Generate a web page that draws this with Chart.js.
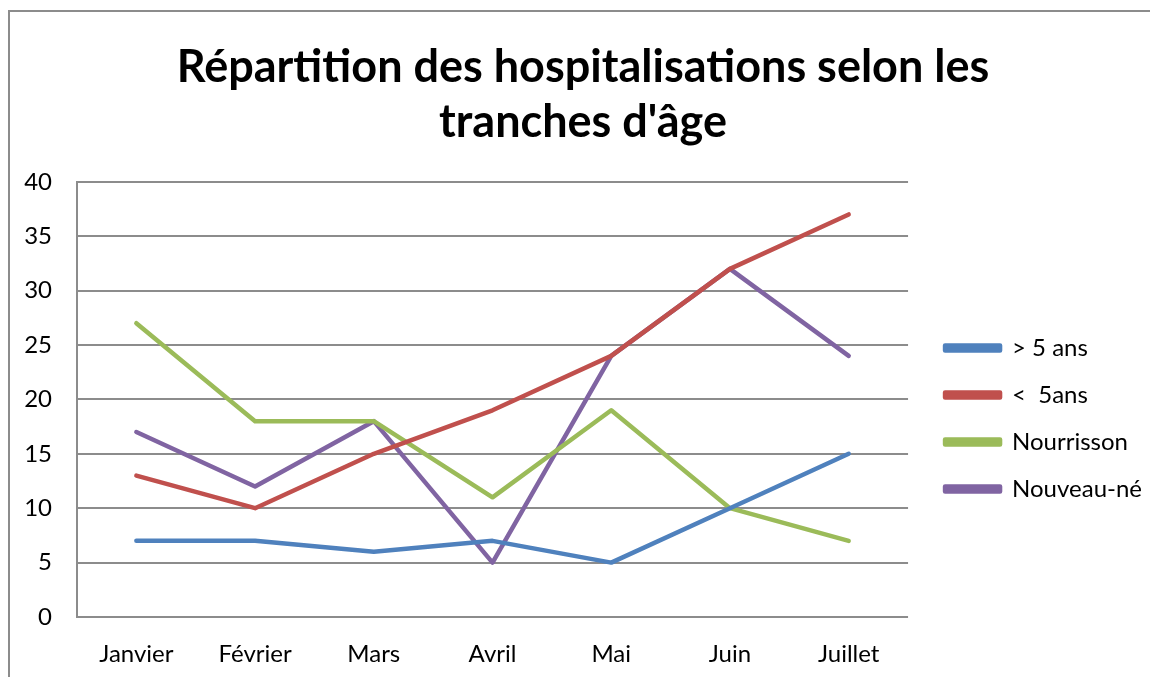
<!DOCTYPE html>
<html lang="fr">
<head>
    <meta charset="UTF-8">
    <title>Répartition des hospitalisations selon les tranches d'âge</title>
    <script src="https://cdn.jsdelivr.net/npm/chart.js"></script>
    <style>
        body { margin: 0; background: #fff; }
        #frame {
            position: absolute; left: 8px; top: 10px; width: 1142px; height: 667px;
            border-left: 2px solid #8c8c8c; border-top: 2px solid #8c8c8c;
        }
        #wrap { position: absolute; left: 0; top: 0; width: 1150px; height: 677px; }
    </style>
</head>
<body>
    <div id="frame"></div>
    <div id="wrap"><canvas id="hospChart" width="1150" height="677"></canvas></div>
    <script>
        const months = ['Janvier', 'Février', 'Mars', 'Avril', 'Mai', 'Juin', 'Juillet'];
        const plus5 = [7, 7, 6, 7, 5, 10, 15];
        const moins5 = [13, 10, 15, 19, 24, 32, 37];
        const nourrisson = [27, 18, 18, 11, 19, 10, 7];
        const nouveauNe = [17, 12, 18, 5, 24, 32, 24];
        const yTicks = [0, 5, 10, 15, 20, 25, 30, 35, 40];

        const font = 'Lato, Carlito, "Open Sans", sans-serif';

        function serie(label, data, color) {
            return {
                label: label, data: data, borderColor: color, backgroundColor: color,
                borderWidth: 4.5, pointRadius: 0, tension: 0, borderCapStyle: 'round', borderJoinStyle: 'round'
            };
        }

        // nudge legend and title to where Excel puts them
        const boxShift = {
            id: 'boxShift',
            afterLayout(chart) {
                const lg = chart.legend;
                if (lg) {
                    lg.left += 14; lg.right += 14;
                    lg.top += 79; lg.bottom += 79;
                }
                const tb = chart.titleBlock;
                if (tb) { tb.left += 9; tb.right += 9; }
            }
        };

        const ctx = document.getElementById('hospChart').getContext('2d');
        new Chart(ctx, {
            type: 'line',
            data: {
                labels: months,
                datasets: [
                    serie('> 5 ans', plus5, '#4F81BD'),
                    serie('<  5ans', moins5, '#C0504D'),
                    serie('Nourrisson', nourrisson, '#9BBB59'),
                    serie('Nouveau-né', nouveauNe, '#8064A2')
                ]
            },
            plugins: [boxShift],
            options: {
                responsive: false,
                animation: false,
                layout: { padding: { left: 10, right: 12, top: 10, bottom: 8 } },
                plugins: {
                    title: {
                        display: true,
                        text: ['Répartition des hospitalisations selon les', "tranches d'âge"],
                        color: '#000',
                        font: { family: font, size: 45, weight: 'bold', lineHeight: 1.22 },
                        padding: { top: 30, bottom: 32 }
                    },
                    legend: {
                        position: 'right',
                        labels: {
                            color: '#000',
                            font: { family: font, size: 24 },
                            boxWidth: 55,
                            boxHeight: 5,
                            padding: 23
                        }
                    },
                    tooltip: { enabled: false }
                },
                scales: {
                    x: {
                        offset: true,
                        grid: { display: false, drawTicks: false },
                        border: { display: false },
                        ticks: { color: '#000', font: { family: font, size: 24 }, padding: 23, maxRotation: 0 },
                        afterFit: axis => { axis.height = 52; }
                    },
                    y: {
                        min: 0, max: 40,
                        afterBuildTicks: axis => { axis.ticks = yTicks.map(v => ({ value: v })); },
                        grid: { color: '#8c8c8c', lineWidth: 2, drawTicks: false },
                        border: { display: true, color: '#8c8c8c', width: 2 },
                        ticks: { color: '#000', font: { family: font, size: 24 }, padding: 25 },
                        afterFit: axis => { axis.width = 67; }
                    }
                }
            }
        });
    </script>
</body>
</html>
